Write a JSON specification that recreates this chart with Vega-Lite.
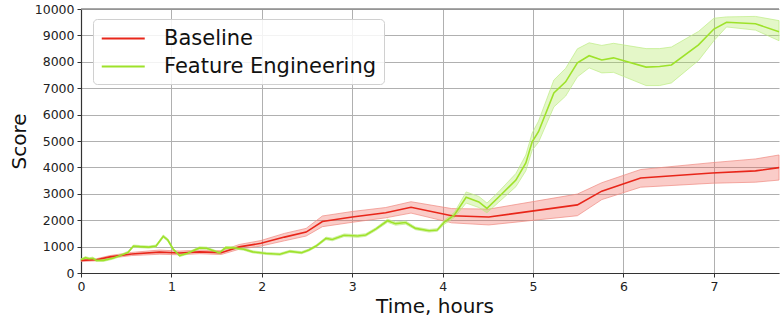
{
  "$schema": "https://vega.github.io/schema/vega-lite/v6.json",
  "width": 698,
  "height": 264,
  "autosize": {"type": "none"},
  "padding": {"left": 81, "top": 9, "right": 1, "bottom": 47},
  "background": "white",
  "config": {
    "font": "DejaVu Sans",
    "view": {"stroke": null},
    "axis": {
      "labelFont": "DejaVu Sans",
      "titleFont": "DejaVu Sans",
      "labelFontSize": 12.5,
      "labelColor": "#222222",
      "titleFontSize": 20,
      "titleFontWeight": "normal",
      "titleColor": "#111111",
      "gridColor": "#b0b0b0",
      "gridWidth": 1,
      "domainColor": "#333333",
      "domainWidth": 1.2,
      "tickColor": "#333333",
      "tickSize": 4,
      "labelPadding": 3,
      "labelFlush": false
    }
  },
  "datasets": {
    "runs": [
      {"series": "Baseline", "t": 0.00, "y": 480, "lo": 440, "hi": 520},
      {"series": "Baseline", "t": 0.17, "y": 500, "lo": 460, "hi": 540},
      {"series": "Baseline", "t": 0.32, "y": 610, "lo": 560, "hi": 660},
      {"series": "Baseline", "t": 0.56, "y": 720, "lo": 660, "hi": 780},
      {"series": "Baseline", "t": 0.87, "y": 790, "lo": 710, "hi": 870},
      {"series": "Baseline", "t": 1.09, "y": 760, "lo": 690, "hi": 830},
      {"series": "Baseline", "t": 1.31, "y": 800, "lo": 730, "hi": 870},
      {"series": "Baseline", "t": 1.55, "y": 770, "lo": 700, "hi": 840},
      {"series": "Baseline", "t": 1.75, "y": 990, "lo": 900, "hi": 1080},
      {"series": "Baseline", "t": 1.99, "y": 1125, "lo": 1020, "hi": 1230},
      {"series": "Baseline", "t": 2.25, "y": 1360, "lo": 1220, "hi": 1500},
      {"series": "Baseline", "t": 2.49, "y": 1550, "lo": 1400, "hi": 1690},
      {"series": "Baseline", "t": 2.67, "y": 1950, "lo": 1755, "hi": 2160},
      {"series": "Baseline", "t": 3.00, "y": 2120, "lo": 1920, "hi": 2330},
      {"series": "Baseline", "t": 3.37, "y": 2285, "lo": 2090, "hi": 2480},
      {"series": "Baseline", "t": 3.65, "y": 2490, "lo": 2270, "hi": 2700},
      {"series": "Baseline", "t": 4.10, "y": 2170, "lo": 1900, "hi": 2440},
      {"series": "Baseline", "t": 4.51, "y": 2120, "lo": 1820, "hi": 2420},
      {"series": "Baseline", "t": 5.49, "y": 2580, "lo": 2170, "hi": 2990},
      {"series": "Baseline", "t": 5.76, "y": 3100, "lo": 2780, "hi": 3420},
      {"series": "Baseline", "t": 6.19, "y": 3600, "lo": 3250, "hi": 3920},
      {"series": "Baseline", "t": 6.98, "y": 3790, "lo": 3400, "hi": 4180},
      {"series": "Baseline", "t": 7.46, "y": 3870, "lo": 3440, "hi": 4320},
      {"series": "Baseline", "t": 7.72, "y": 3990, "lo": 3520, "hi": 4470},

      {"series": "Feature Engineering", "t": 0.00, "y": 500, "lo": 460, "hi": 540},
      {"series": "Feature Engineering", "t": 0.05, "y": 580, "lo": 540, "hi": 620},
      {"series": "Feature Engineering", "t": 0.09, "y": 540, "lo": 500, "hi": 580},
      {"series": "Feature Engineering", "t": 0.13, "y": 560, "lo": 520, "hi": 600},
      {"series": "Feature Engineering", "t": 0.17, "y": 480, "lo": 440, "hi": 520},
      {"series": "Feature Engineering", "t": 0.25, "y": 480, "lo": 440, "hi": 520},
      {"series": "Feature Engineering", "t": 0.35, "y": 560, "lo": 520, "hi": 600},
      {"series": "Feature Engineering", "t": 0.45, "y": 680, "lo": 640, "hi": 720},
      {"series": "Feature Engineering", "t": 0.52, "y": 780, "lo": 740, "hi": 820},
      {"series": "Feature Engineering", "t": 0.58, "y": 1020, "lo": 980, "hi": 1060},
      {"series": "Feature Engineering", "t": 0.65, "y": 1000, "lo": 960, "hi": 1040},
      {"series": "Feature Engineering", "t": 0.75, "y": 980, "lo": 940, "hi": 1020},
      {"series": "Feature Engineering", "t": 0.83, "y": 1020, "lo": 980, "hi": 1060},
      {"series": "Feature Engineering", "t": 0.91, "y": 1390, "lo": 1340, "hi": 1440},
      {"series": "Feature Engineering", "t": 0.96, "y": 1250, "lo": 1200, "hi": 1300},
      {"series": "Feature Engineering", "t": 1.02, "y": 900, "lo": 860, "hi": 940},
      {"series": "Feature Engineering", "t": 1.09, "y": 660, "lo": 620, "hi": 700},
      {"series": "Feature Engineering", "t": 1.18, "y": 750, "lo": 710, "hi": 790},
      {"series": "Feature Engineering", "t": 1.31, "y": 950, "lo": 910, "hi": 990},
      {"series": "Feature Engineering", "t": 1.39, "y": 940, "lo": 900, "hi": 980},
      {"series": "Feature Engineering", "t": 1.46, "y": 850, "lo": 810, "hi": 890},
      {"series": "Feature Engineering", "t": 1.53, "y": 760, "lo": 720, "hi": 800},
      {"series": "Feature Engineering", "t": 1.60, "y": 960, "lo": 920, "hi": 1000},
      {"series": "Feature Engineering", "t": 1.70, "y": 950, "lo": 910, "hi": 990},
      {"series": "Feature Engineering", "t": 1.80, "y": 900, "lo": 860, "hi": 940},
      {"series": "Feature Engineering", "t": 1.90, "y": 800, "lo": 760, "hi": 840},
      {"series": "Feature Engineering", "t": 2.05, "y": 740, "lo": 700, "hi": 780},
      {"series": "Feature Engineering", "t": 2.20, "y": 710, "lo": 670, "hi": 750},
      {"series": "Feature Engineering", "t": 2.31, "y": 820, "lo": 780, "hi": 860},
      {"series": "Feature Engineering", "t": 2.44, "y": 770, "lo": 730, "hi": 810},
      {"series": "Feature Engineering", "t": 2.52, "y": 870, "lo": 830, "hi": 910},
      {"series": "Feature Engineering", "t": 2.60, "y": 1020, "lo": 980, "hi": 1060},
      {"series": "Feature Engineering", "t": 2.71, "y": 1310, "lo": 1260, "hi": 1360},
      {"series": "Feature Engineering", "t": 2.78, "y": 1270, "lo": 1220, "hi": 1320},
      {"series": "Feature Engineering", "t": 2.91, "y": 1430, "lo": 1380, "hi": 1480},
      {"series": "Feature Engineering", "t": 3.06, "y": 1400, "lo": 1350, "hi": 1450},
      {"series": "Feature Engineering", "t": 3.15, "y": 1440, "lo": 1390, "hi": 1490},
      {"series": "Feature Engineering", "t": 3.26, "y": 1660, "lo": 1610, "hi": 1710},
      {"series": "Feature Engineering", "t": 3.39, "y": 1980, "lo": 1920, "hi": 2040},
      {"series": "Feature Engineering", "t": 3.48, "y": 1870, "lo": 1810, "hi": 1930},
      {"series": "Feature Engineering", "t": 3.59, "y": 1910, "lo": 1850, "hi": 1970},
      {"series": "Feature Engineering", "t": 3.70, "y": 1690, "lo": 1640, "hi": 1740},
      {"series": "Feature Engineering", "t": 3.85, "y": 1600, "lo": 1550, "hi": 1650},
      {"series": "Feature Engineering", "t": 3.94, "y": 1630, "lo": 1580, "hi": 1680},
      {"series": "Feature Engineering", "t": 4.02, "y": 1930, "lo": 1850, "hi": 2010},
      {"series": "Feature Engineering", "t": 4.13, "y": 2200, "lo": 2100, "hi": 2300},
      {"series": "Feature Engineering", "t": 4.26, "y": 2870, "lo": 2650, "hi": 3070},
      {"series": "Feature Engineering", "t": 4.40, "y": 2690, "lo": 2480, "hi": 2900},
      {"series": "Feature Engineering", "t": 4.49, "y": 2450, "lo": 2280, "hi": 2650},
      {"series": "Feature Engineering", "t": 4.62, "y": 2880, "lo": 2680, "hi": 3080},
      {"series": "Feature Engineering", "t": 4.81, "y": 3520, "lo": 3270, "hi": 3770},
      {"series": "Feature Engineering", "t": 4.92, "y": 4170, "lo": 3870, "hi": 4470},
      {"series": "Feature Engineering", "t": 4.99, "y": 4970, "lo": 4650, "hi": 5300},
      {"series": "Feature Engineering", "t": 5.06, "y": 5350, "lo": 4950, "hi": 5750},
      {"series": "Feature Engineering", "t": 5.23, "y": 6820, "lo": 6290, "hi": 7310},
      {"series": "Feature Engineering", "t": 5.36, "y": 7240, "lo": 6700, "hi": 7750},
      {"series": "Feature Engineering", "t": 5.49, "y": 7960, "lo": 7430, "hi": 8490},
      {"series": "Feature Engineering", "t": 5.62, "y": 8230, "lo": 7770, "hi": 8720},
      {"series": "Feature Engineering", "t": 5.76, "y": 8070, "lo": 7580, "hi": 8620},
      {"series": "Feature Engineering", "t": 5.89, "y": 8150, "lo": 7600, "hi": 8700},
      {"series": "Feature Engineering", "t": 6.25, "y": 7800, "lo": 7100, "hi": 8500},
      {"series": "Feature Engineering", "t": 6.40, "y": 7820, "lo": 7100, "hi": 8500},
      {"series": "Feature Engineering", "t": 6.53, "y": 7880, "lo": 7200, "hi": 8560},
      {"series": "Feature Engineering", "t": 6.83, "y": 8640, "lo": 8050, "hi": 9150},
      {"series": "Feature Engineering", "t": 7.00, "y": 9240, "lo": 8800, "hi": 9650},
      {"series": "Feature Engineering", "t": 7.14, "y": 9500, "lo": 9320, "hi": 9700},
      {"series": "Feature Engineering", "t": 7.46, "y": 9440, "lo": 9200, "hi": 9720},
      {"series": "Feature Engineering", "t": 7.72, "y": 9140, "lo": 8800, "hi": 9560}
    ],
    "frame": [
      {"top": 10000}
    ]
  },
  "layer": [
    {
      "data": {"name": "runs"},
      "transform": [{"filter": "datum.series === 'Baseline'"}],
      "mark": {"type": "area", "fill": "#f0564a", "fillOpacity": 0.3, "stroke": "#f08a82", "strokeWidth": 1, "strokeOpacity": 0.7},
      "encoding": {
        "x": {"field": "t", "type": "quantitative", "scale": {"domain": [0, 7.72], "nice": false, "zero": false},
              "axis": {"title": "Time, hours", "values": [0, 1, 2, 3, 4, 5, 6, 7], "format": "d", "titlePadding": 4, "titleX": 353.5}},
        "y": {"field": "lo", "type": "quantitative", "scale": {"domain": [0, 10000], "nice": false},
              "axis": {"title": "Score", "values": [0, 1000, 2000, 3000, 4000, 5000, 6000, 7000, 8000, 9000, 10000], "format": "d", "titlePadding": 5}},
        "y2": {"field": "hi"}
      }
    },
    {
      "data": {"name": "runs"},
      "transform": [{"filter": "datum.series === 'Feature Engineering'"}],
      "mark": {"type": "area", "fill": "#a6e64a", "fillOpacity": 0.3, "stroke": "#bdec84", "strokeWidth": 1, "strokeOpacity": 0.7},
      "encoding": {
        "x": {"field": "t", "type": "quantitative",
              "axis": {"title": "Time, hours", "values": [0, 1, 2, 3, 4, 5, 6, 7], "format": "d", "titlePadding": 4, "titleX": 353.5}},
        "y": {"field": "lo", "type": "quantitative",
              "axis": {"title": "Score", "values": [0, 1000, 2000, 3000, 4000, 5000, 6000, 7000, 8000, 9000, 10000], "format": "d", "titlePadding": 5}},
        "y2": {"field": "hi"}
      }
    },
    {
      "data": {"name": "runs"},
      "mark": {"type": "line", "strokeWidth": 1.6},
      "encoding": {
        "x": {"field": "t", "type": "quantitative",
              "axis": {"title": "Time, hours", "values": [0, 1, 2, 3, 4, 5, 6, 7], "format": "d", "titlePadding": 4, "titleX": 353.5}},
        "y": {"field": "y", "type": "quantitative",
              "axis": {"title": "Score", "values": [0, 1000, 2000, 3000, 4000, 5000, 6000, 7000, 8000, 9000, 10000], "format": "d", "titlePadding": 5}},
        "color": {
          "field": "series",
          "type": "nominal",
          "scale": {"domain": ["Baseline", "Feature Engineering"], "range": ["#e8261a", "#9ee22a"]},
          "legend": {
            "title": null,
            "orient": "none",
            "legendX": 12,
            "legendY": 10,
            "fillColor": "rgba(255,255,255,0.85)",
            "strokeColor": "#d0d0d0",
            "cornerRadius": 4,
            "padding": 7.5,
            "symbolType": "M-1,0H3",
            "symbolSize": 462,
            "symbolStrokeWidth": 1.8,
            "symbolFillColor": "transparent",
            "labelFontSize": 21,
            "labelFont": "DejaVu Sans",
            "labelColor": "#111111",
            "labelOffset": 39.5,
            "rowPadding": 6,
            "labelLimit": 400
          }
        }
      }
    },
    {
      "data": {"name": "frame"},
      "mark": {"type": "rule", "color": "#8c8c8c", "strokeWidth": 1.5},
      "encoding": {
        "y": {"field": "top", "type": "quantitative",
              "axis": {"title": "Score", "values": [0, 1000, 2000, 3000, 4000, 5000, 6000, 7000, 8000, 9000, 10000], "format": "d", "titlePadding": 5}}
      }
    }
  ]
}
